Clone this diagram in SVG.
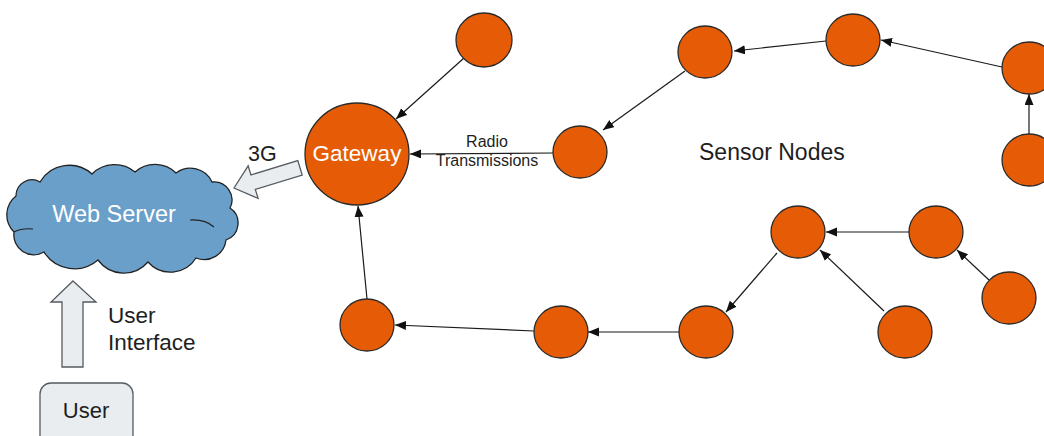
<svg xmlns="http://www.w3.org/2000/svg" width="1044" height="436" viewBox="0 0 1044 436">
  <style>
    .node { fill: #e65c06; stroke: #2a2a2a; stroke-width: 1.3; }
    .edge { stroke: #1a1a1a; stroke-width: 1.2; fill: none; marker-end: url(#tip); }
    .block { fill: #e9edef; stroke: #555b60; stroke-width: 1.3; }
    .txt { font-family: "Liberation Sans", Arial, sans-serif; fill: #1e1e1e; }
    .white { fill: #ffffff; }
  </style>
  <defs>
    <marker id="tip" markerUnits="userSpaceOnUse" markerWidth="12" markerHeight="10" refX="11" refY="4.5" orient="auto">
      <path d="M0,0 L11,4.5 L0,9 z" fill="#111"/>
    </marker>
  </defs>
  <rect width="1044" height="436" fill="#ffffff"/>

  <!-- Web server cloud -->
  <g id="web-server">
    <path d="M14,232 A24,24 0 0 1 16,196 A16,16 0 0 1 40,182 A34,34 0 0 1 92,174 A32,32 0 0 1 135,172 A30,30 0 0 1 176,173 A24,24 0 0 1 212,182 A18,18 0 0 1 230,208 A18,18 0 0 1 226,240 A22,22 0 0 1 196,258 A30,30 0 0 1 148,262 A32,32 0 0 1 98,260 A36,36 0 0 1 44,252 A20,20 0 0 1 14,232 Z" fill="#6a9fca" stroke="#222" stroke-width="1.3"/>
    <path d="M14,232 Q22,228 33,229" fill="none" stroke="#222" stroke-width="1.1"/>
    <path d="M190,220 Q205,219 214,227" fill="none" stroke="#222" stroke-width="1.1"/>
    <text class="txt white" x="114" y="222" font-size="23.5" text-anchor="middle">Web Server</text>
  </g>

  <!-- 3G uplink arrow -->
  <g id="uplink-3g">
    <polygon class="block" transform="translate(234,188) rotate(-17)" points="0,0 20,-17 20,-7.5 69,-7.5 69,7.5 20,7.5 20,17"/>
    <text class="txt" x="248" y="161" font-size="21.5">3G</text>
  </g>

  <!-- User interface arrow -->
  <g id="user-interface">
    <polygon class="block" points="73,281 96,302 83,302 83,367 62,367 62,302 51,302"/>
    <text class="txt" x="108" y="323" font-size="22.5">User</text>
    <text class="txt" x="108" y="350" font-size="22.5">Interface</text>
  </g>

  <!-- User -->
  <g id="user">
    <rect class="block" x="40" y="383" width="93" height="70" rx="11"/>
    <text class="txt" x="86" y="418" font-size="22" text-anchor="middle">User</text>
  </g>

  <!-- Connectors -->
  <g id="connectors">
    <line class="edge" x1="464" y1="58" x2="396" y2="119"/>
    <line class="edge" x1="553" y1="153" x2="410" y2="154"/>
    <line class="edge" x1="685" y1="71" x2="603" y2="130"/>
    <line class="edge" x1="826" y1="41" x2="734" y2="51"/>
    <line class="edge" x1="1002" y1="67" x2="881" y2="40"/>
    <line class="edge" x1="1029" y1="135" x2="1029" y2="94"/>
    <line class="edge" x1="367" y1="299" x2="358" y2="206"/>
    <line class="edge" x1="534" y1="331" x2="395" y2="325"/>
    <line class="edge" x1="679" y1="332" x2="588" y2="332"/>
    <line class="edge" x1="777" y1="253" x2="726" y2="312"/>
    <line class="edge" x1="909" y1="232" x2="826" y2="232"/>
    <line class="edge" x1="884" y1="311" x2="820" y2="250"/>
    <line class="edge" x1="989" y1="280" x2="957" y2="250"/>
  </g>

  <g id="radio-label">
    <text class="txt" x="487" y="147" font-size="16" text-anchor="middle">Radio</text>
    <text class="txt" x="487" y="166" font-size="16" text-anchor="middle">Transmissions</text>
  </g>

  <!-- Gateway -->
  <g id="gateway">
    <ellipse class="node" cx="357" cy="154" rx="52" ry="51"/>
    <text class="txt white" x="357" y="161" font-size="22.5" text-anchor="middle">Gateway</text>
  </g>

  <!-- Sensor nodes -->
  <g id="sensor-1"><ellipse class="node" cx="484" cy="40" rx="28" ry="27"/></g>
  <g id="sensor-2"><ellipse class="node" cx="580" cy="152" rx="27" ry="26"/></g>
  <g id="sensor-3"><ellipse class="node" cx="705" cy="52" rx="27" ry="26"/></g>
  <g id="sensor-4"><ellipse class="node" cx="853" cy="40" rx="27" ry="26"/></g>
  <g id="sensor-5"><ellipse class="node" cx="1029" cy="68" rx="27" ry="26"/></g>
  <g id="sensor-6"><ellipse class="node" cx="1029" cy="160" rx="27" ry="26"/></g>
  <g id="sensor-7"><ellipse class="node" cx="367" cy="325" rx="27" ry="26"/></g>
  <g id="sensor-8"><ellipse class="node" cx="561" cy="332" rx="27" ry="26"/></g>
  <g id="sensor-9"><ellipse class="node" cx="706" cy="332" rx="27" ry="26"/></g>
  <g id="sensor-10"><ellipse class="node" cx="798" cy="232" rx="27" ry="26"/></g>
  <g id="sensor-11"><ellipse class="node" cx="936" cy="232" rx="27" ry="26"/></g>
  <g id="sensor-12"><ellipse class="node" cx="905" cy="332" rx="27" ry="26"/></g>
  <g id="sensor-13"><ellipse class="node" cx="1009" cy="298" rx="27" ry="26"/></g>

  <g id="sensor-label">
    <text class="txt" x="699" y="160" font-size="23">Sensor Nodes</text>
  </g>
</svg>
